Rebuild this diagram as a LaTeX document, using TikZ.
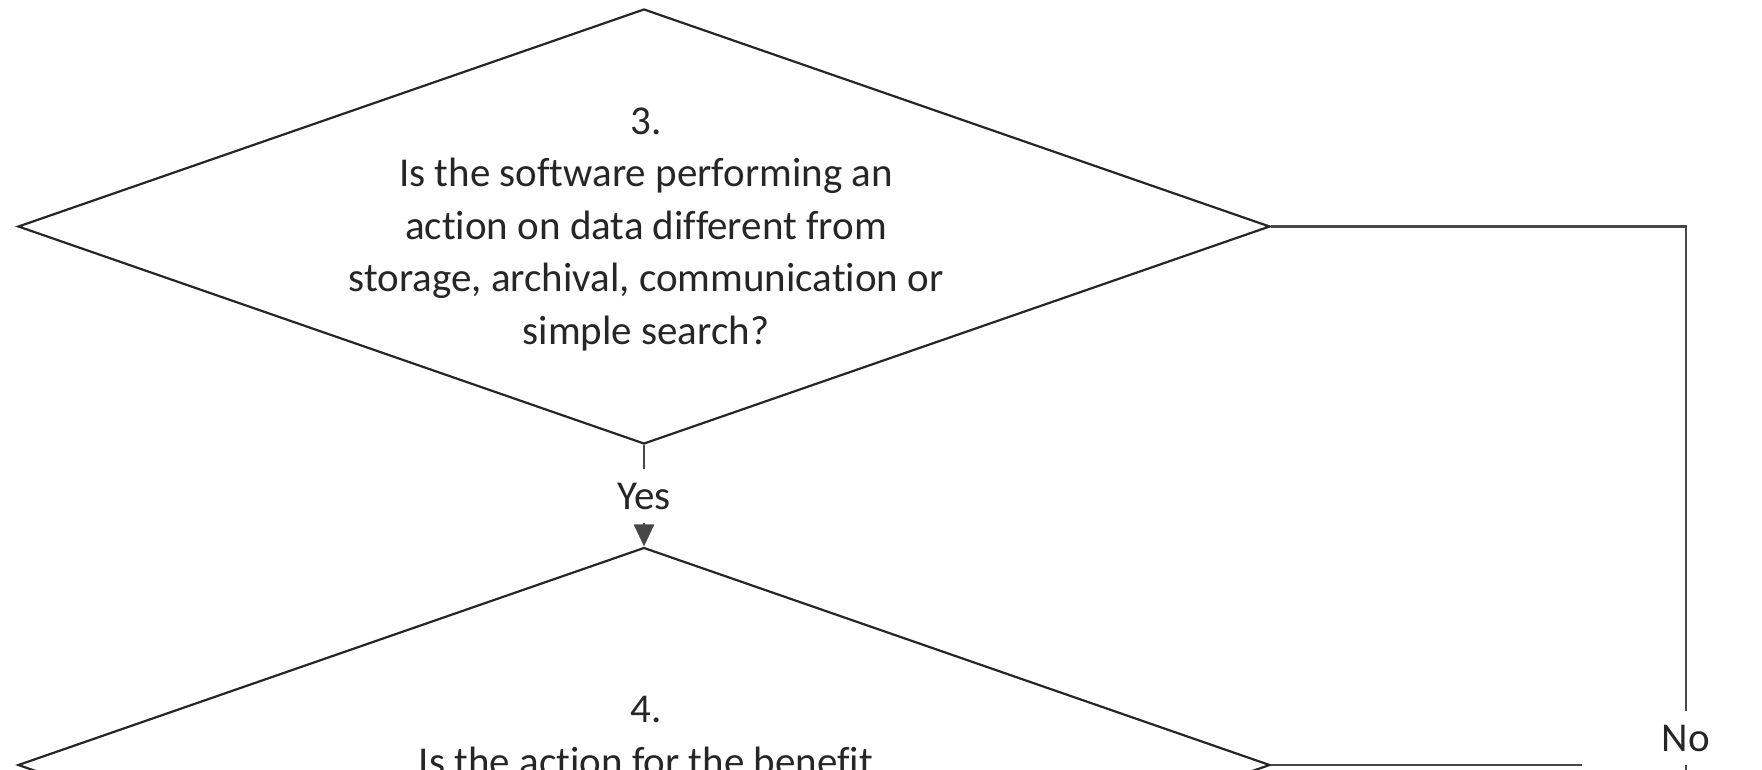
\documentclass[tikz,border=0pt]{standalone}
\usepackage{fontspec}
\setmainfont{Carlito}[Ligatures=NoCommon]
\usetikzlibrary{shapes.geometric,arrows.meta}
\begin{document}
\begin{tikzpicture}[x=1pt,y=-1pt,
  decision/.style={draw=black!85, line width=2.2pt, shape=diamond, minimum width=1252pt, minimum height=435pt, inner sep=0pt},
  qtext/.style={align=center, font=\fontsize{41}{52.5}\selectfont, text=black!85, inner sep=0pt},
  conn/.style={draw=black!72, line width=2.8pt},
  lbl/.style={font=\fontsize{41}{48}\selectfont, text=black!85, fill=white, inner sep=0pt, minimum height=54pt},
  tip/.style={-{Triangle[width=20pt,length=22pt]}}
]
\useasboundingbox (0,0) rectangle (1762,769);
\node[decision] (d1) at (644,226.5) {};
\node[qtext] (t1) at (646,229) {3.\\Is the software performing an\\action on data different from\\storage, archival, communication or\\simple search?};
\node[decision] (d2) at (644,765) {};
\node[qtext] (t2) at (646,736) {4.\\Is the action for the benefit};
\node[lbl] (yes) at (644,496) {Yes};
\draw[conn] (d1.south) -- (yes);
\draw[conn,tip] (yes) -- (d2.north);
\coordinate (c1) at (1686,226.5);
\node[lbl] (no) at (1686,738) {No};
\coordinate (c2) at (1686,820);
\draw[conn] (d1.east) -- (c1) -- (no);
\draw[conn] (no) -- (c2);
\coordinate (c3) at (1582,765);
\draw[conn] (d2.east) -- (c3);
\end{tikzpicture}
\end{document}
